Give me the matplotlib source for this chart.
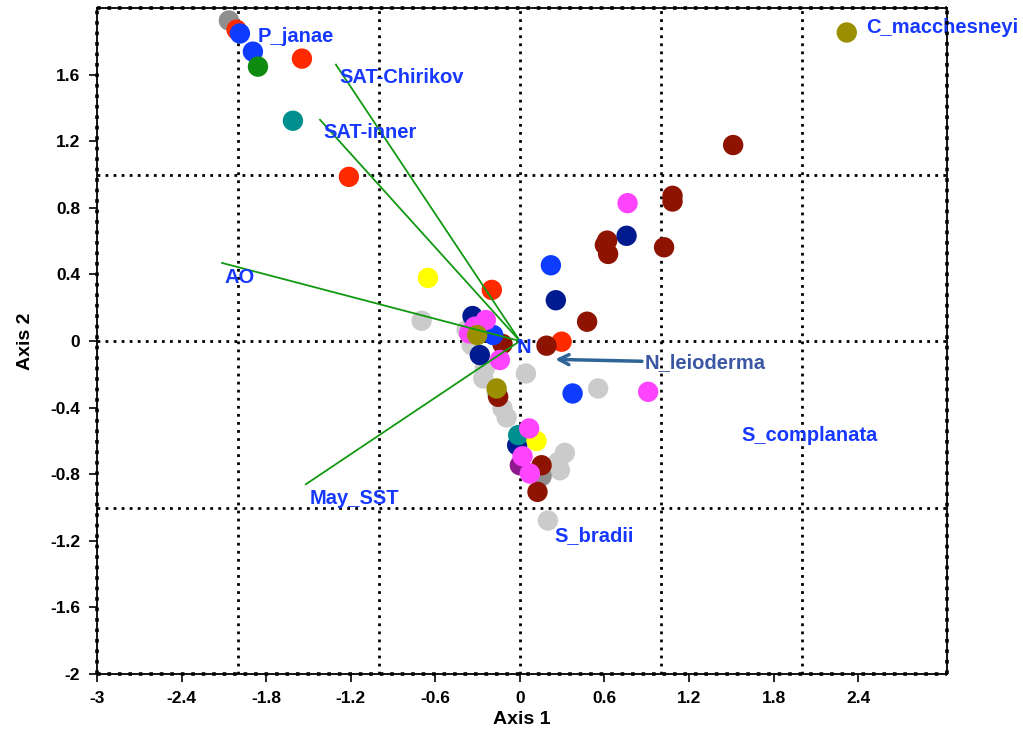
import numpy as np
import matplotlib
matplotlib.use('Agg')
import matplotlib.pyplot as plt

# 样点坐标 (Axis 1, Axis 2)，按颜色分组
light_gray_x = [-0.697, -0.378, -0.343, -0.248, -0.260, 0.043, -0.165, -0.123, -0.094, 0.555, 0.319, 0.272, 0.284, 0.199]
light_gray_y = [0.122, 0.066, -0.024, -0.164, -0.225, -0.195, -0.313, -0.405, -0.459, -0.285, -0.672, -0.726, -0.776, -1.078]
dark_gray_x = [0.154, -2.064]
dark_gray_y = [-0.812, 1.925]
red_x = [-2.010, -1.546, -1.213, -0.199, 0.296]
red_y = [1.870, 1.696, 0.986, 0.307, -0.004]
dark_red_x = [1.513, 1.083, 1.083, 0.619, 0.603, 0.626, 1.023, 0.477, 0.189, -0.123, -0.154, 0.154, 0.125]
dark_red_y = [1.177, 0.872, 0.838, 0.603, 0.577, 0.523, 0.563, 0.116, -0.028, -0.018, -0.335, -0.746, -0.906]
blue_x = [-1.986, -1.894, 0.220, 0.374, -0.189]
blue_y = [1.847, 1.738, 0.455, -0.315, 0.036]
navy_x = [0.757, 0.255, -0.336, -0.284, -0.019]
navy_y = [0.632, 0.245, 0.150, -0.084, -0.626]
teal_x = [-1.610, -0.012]
teal_y = [1.323, -0.565]
yellow_x = [-0.652, 0.118]
yellow_y = [0.379, -0.600]
purple_x = [0.0]
purple_y = [-0.746]
magenta_x = [0.764, 0.910, -0.241, -0.319, -0.360, -0.142, 0.066, 0.019, 0.071]
magenta_y = [0.828, -0.305, 0.126, 0.086, 0.046, -0.114, -0.525, -0.692, -0.796]
olive_x = [2.319, -0.303, -0.165]
olive_y = [1.853, 0.036, -0.285]
green_x = [-1.858]
green_y = [1.648]

groups = [
    (light_gray_x, light_gray_y, '#cbcbcb'),
    (dark_gray_x, dark_gray_y, '#8f8f8f'),
    (red_x, red_y, '#ff2a00'),
    (dark_red_x, dark_red_y, '#8e1300'),
    (blue_x, blue_y, '#0d3cff'),
    (navy_x, navy_y, '#001b8f'),
    (teal_x, teal_y, '#008f8f'),
    (yellow_x, yellow_y, '#ffff00'),
    (purple_x, purple_y, '#8c1a8c'),
    (magenta_x, magenta_y, '#ff44ff'),
    (olive_x, olive_y, '#9a8f00'),
    (green_x, green_y, '#0f8c0f'),
]

# 环境变量向量
env_names = ['SAT-Chirikov', 'SAT-inner', 'AO', 'May_SST']
env_x = [-1.305, -1.418, -2.113, -1.518]
env_y = [1.660, 1.329, 0.469, -0.860]
env_label_x = [-1.277, -1.397, -2.092, -1.490]
env_label_y = [1.580, 1.250, 0.380, -0.944]

# 物种标签
sp_names = ['P_janae', 'C_macchesneyi', 'S_complanata', 'S_bradii', 'N']
sp_x = [-1.858, 2.454, 1.574, 0.248, -0.02]
sp_y = [1.830, 1.883, -0.565, -1.167, -0.04]

num_font = ['Liberation Sans Narrow', 'Liberation Sans', 'DejaVu Sans']
lab_font = ['Liberation Sans', 'DejaVu Sans']

fig = plt.figure(figsize=(10.23, 7.42), dpi=100)
ax = fig.add_axes([0.0948, 0.0916, 0.8309, 0.8976])

# 整数位置的点线网格
dot = dict(color='black', linewidth=2.0, linestyle=(0, (1, 1.9)), zorder=1)
for gx in [-2, -1, 0, 1, 2]:
    ax.axvline(gx, **dot)
for gy in [-1, 0, 1]:
    ax.axhline(gy, **dot)

for xs, ys, c in groups:
    ax.scatter(xs, ys, s=215, color=c, edgecolors='none', zorder=3)

# 向量
for ex, ey in zip(env_x, env_y):
    ax.plot([0, ex], [0, ey], color='#119911', linewidth=1.3, zorder=4)

for name, tx, ty in zip(env_names, env_label_x, env_label_y):
    ax.text(tx, ty, name, color='#1638ff', fontsize=14.5, fontweight='bold',
            family=lab_font, ha='left', va='center', zorder=5)
for name, tx, ty in zip(sp_names, sp_x, sp_y):
    ax.text(tx, ty, name, color='#1638ff', fontsize=14.5, fontweight='bold',
            family=lab_font, ha='left', va='center', zorder=5)

ax.annotate('N_leioderma', xy=(0.25, -0.11), xytext=(0.886, -0.13),
            color='#3a57a3', fontsize=14.5, fontweight='bold', family=lab_font,
            ha='left', va='center', zorder=5,
            arrowprops=dict(arrowstyle='->', color='#2f6496', lw=2.5,
                            mutation_scale=18, shrinkA=0, shrinkB=0))

ax.set_xlim(-3, 3.03)
ax.set_ylim(-2, 2)
ax.set_xticks(np.round(np.arange(-3, 2.5, 0.6), 1))
ax.set_xticklabels(['-3', '-2.4', '-1.8', '-1.2', '-0.6', '0', '0.6', '1.2', '1.8', '2.4'])
ax.set_yticks(np.round(np.arange(-2, 1.7, 0.4), 1))
ax.set_yticklabels(['-2', '-1.6', '-1.2', '-0.8', '-0.4', '0', '0.4', '0.8', '1.2', '1.6'])
ax.tick_params(direction='out', length=6, width=1.2, pad=6)
for lbl in ax.get_xticklabels() + ax.get_yticklabels():
    lbl.set_family(num_font)
    lbl.set_fontweight('bold')
    lbl.set_fontsize(12.5)

for sp in ax.spines.values():
    sp.set_linewidth(1.3)
# 边框上的点
frame_dot = dict(color='black', linewidth=2.6, linestyle=(0, (1, 1.9)), clip_on=False, zorder=6)
ax.plot([-3, 3.03], [2, 2], **frame_dot)
ax.plot([-3, 3.03], [-2, -2], **frame_dot)
ax.plot([-3, -3], [-2, 2], **frame_dot)
ax.plot([3.03, 3.03], [-2, 2], **frame_dot)

ax.set_xlabel('Axis 1', family=num_font, fontweight='bold', fontsize=14, labelpad=4)
ax.set_ylabel('Axis 2', family=num_font, fontweight='bold', fontsize=14, labelpad=12)

fig.savefig('out.png', dpi=100)
